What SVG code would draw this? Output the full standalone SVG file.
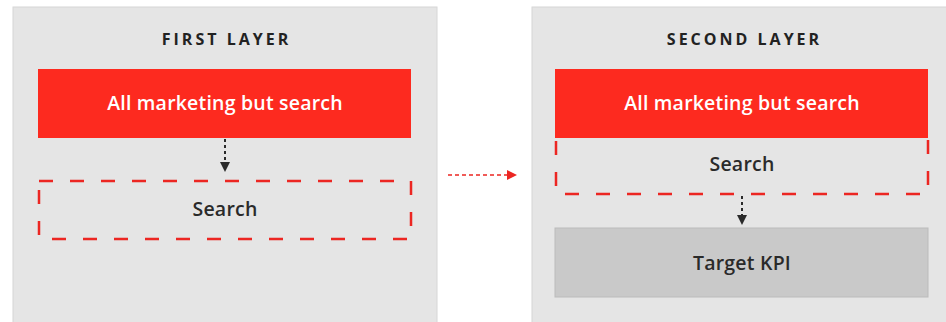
<svg xmlns="http://www.w3.org/2000/svg" width="946" height="322" viewBox="0 0 946 322">
<style>
.panel{fill:#e5e5e5;stroke:#d6d6d6;stroke-width:1}
.title{font-family:"Open Sans","Liberation Sans",sans-serif;font-weight:700;font-size:16px;letter-spacing:3px;fill:#222;text-anchor:middle}
.red{fill:#fd2a1f}
.lbl{font-family:"Open Sans","Liberation Sans",sans-serif;font-weight:600;font-size:19.5px;letter-spacing:0.2px;text-anchor:middle}
.w{fill:#ffffff}
.d{fill:#2a2a2a}
.dash{fill:none;stroke:#ec2622;stroke-width:2.5;stroke-dasharray:14 17}
.kpi{fill:#c9c9c9;stroke:#bbbbbb;stroke-width:1}
.dot{fill:none;stroke:#2a2a2a;stroke-width:2;stroke-dasharray:3 3}
.rdot{fill:none;stroke:#ec2622;stroke-width:1.6;stroke-dasharray:4 3}
</style>
<defs>
<marker id="ab" markerWidth="10" markerHeight="10" refX="5" refY="5" orient="auto" markerUnits="userSpaceOnUse"><path d="M0,0 L10,5 L0,10 z" fill="#2a2a2a"/></marker>
<marker id="ar" markerWidth="10" markerHeight="10" refX="5" refY="5" orient="auto" markerUnits="userSpaceOnUse"><path d="M0,0 L10,5 L0,10 z" fill="#ec2622"/></marker>
</defs>
<rect x="0" y="0" width="946" height="322" fill="#ffffff"/>
<g id="first-layer">
<rect class="panel" x="13" y="7" width="424" height="320"/>
<text class="title" x="226.5" y="45">FIRST LAYER</text>
</g>
<g id="second-layer">
<rect class="panel" x="532" y="7" width="420" height="320"/>
<text class="title" x="744.5" y="45">SECOND LAYER</text>
</g>
<g id="l1-marketing">
<rect class="red" x="38" y="69" width="373" height="69"/>
<text class="lbl w" x="225" y="110">All marketing but search</text>
</g>
<g id="l1-search">
<rect class="dash" x="39" y="181" width="372" height="58"/>
<text class="lbl d" x="225" y="216">Search</text>
</g>
<g id="l2-marketing">
<rect class="red" x="555" y="69" width="373" height="69"/>
<text class="lbl w" x="742" y="110">All marketing but search</text>
</g>
<g id="l2-search">
<path class="dash" d="M928,140 V194 H556 V140"/>
<text class="lbl d" x="742" y="171">Search</text>
</g>
<g id="l2-kpi">
<rect class="kpi" x="555" y="228" width="373" height="69"/>
<text class="lbl d" x="742" y="270">Target KPI</text>
</g>
<g id="connectors">
<path class="dot" d="M225,139 V167" marker-end="url(#ab)"/>
<path class="dot" d="M742,196 V220" marker-end="url(#ab)"/>
<path class="rdot" d="M448,175 H512" marker-end="url(#ar)"/>
</g>
</svg>
